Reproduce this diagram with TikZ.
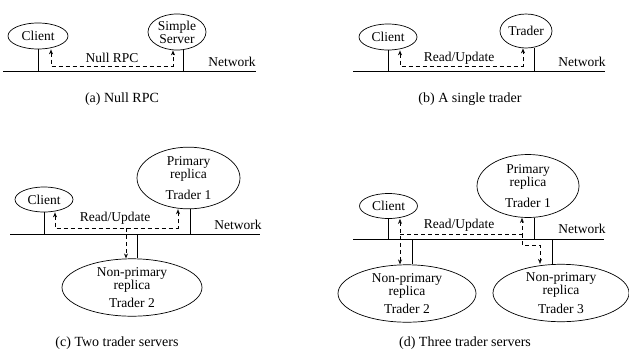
\documentclass[tikz,border=0pt]{standalone}
\usepackage{fontspec}
\setmainfont{Liberation Serif}
\usetikzlibrary{shapes.geometric,arrows.meta}

\begin{document}
\begin{tikzpicture}[x=1pt,y=-1pt,line width=0.7pt,
 host/.style={draw,ellipse,inner sep=0pt,align=center,font=\fontsize{13.5}{11.5}\selectfont},
 msg/.style={dash pattern=on 4pt off 3pt,line width=0.6pt},
 >={Stealth[open,length=5pt,width=4pt,inset=1.5pt]},
 lbl/.style={font=\fontsize{13.5}{14}\selectfont},
 figcap/.style={font=\fontsize{14}{16}\selectfont}]
\useasboundingbox (0,0) rectangle (629,354);

% (a) Null RPC
\node[host,minimum width=60pt,minimum height=26pt] (cla) at (38,36) {Client};
\node[host,minimum width=58pt,minimum height=36pt] (srva) at (177,32) {Simple\\Server};
\coordinate (neta) at (3,71); \coordinate (netb) at (256,71);
\draw (neta) -- (netb);
\draw (cla.south) -- (cla.south |- neta);
\draw ([xshift=6pt]srva.south) -- ([xshift=6pt]srva.south |- neta);
\coordinate (rpca) at (173,66);
\draw[msg,<->] ([xshift=13pt]cla.south) |- (rpca) -- ([xshift=-4pt]srva.south);
\node[lbl] (rpcla) at (112,58) {Null RPC};
\node[lbl] (nwa) at (232,62) {Network};
\node[figcap] (capa) at (122,99) {(a) Null RPC};

% (b) A single trader
\node[host,minimum width=58pt,minimum height=26pt] (clb) at (388,37) {Client};
\node[host,minimum width=52pt,minimum height=34pt] (trb) at (526,31) {Trader};
\coordinate (netc) at (353,71); \coordinate (netd) at (605,71);
\draw (netc) -- (netd);
\draw (clb.south) -- (clb.south |- netc);
\draw ([xshift=8pt]trb.south) -- ([xshift=8pt]trb.south |- netc);
\coordinate (rpcb) at (523,66);
\draw[msg,<->] ([xshift=12pt]clb.south) |- (rpcb) -- ([xshift=-3pt]trb.south);
\node[lbl] (rulb) at (459,58) {Read/Update};
\node[lbl] (nwb) at (582,62) {Network};
\node[figcap] (capb) at (470,99) {(b) A single trader};

% (c) Two trader servers
\node[host,minimum width=58pt,minimum height=25pt] (clc) at (44,199.5) {Client};
\node[host,minimum width=103pt,minimum height=61pt] (prc) at (188.5,178) {Primary\\replica\\[8pt]Trader 1};
\node[host,minimum width=140pt,minimum height=55pt] (npc) at (132,287.5) {Non-primary\\replica\\[5pt]Trader 2};
\coordinate (nete) at (10,234); \coordinate (netf) at (260,234);
\draw (nete) -- (netf);
\draw (clc.south) -- (clc.south |- nete);
\draw ([xshift=1.5pt]prc.south) -- ([xshift=1.5pt]prc.south |- nete);
\draw ([xshift=5pt]npc.north) -- ([xshift=5pt]npc.north |- nete);
\coordinate (rpcc) at (178,228); \coordinate (brc) at (126,228);
\draw[msg,<->] ([xshift=11pt]clc.south) |- (rpcc) -- ([xshift=-10.5pt]prc.south);
\draw[msg,->] (brc) -- ([xshift=-6pt]npc.north);
\node[lbl] (rulc) at (115,218) {Read/Update};
\node[lbl] (nwc) at (238,225) {Network};
\node[figcap] (capc) at (117,343) {(c) Two trader servers};

% (d) Three trader servers
\node[host,minimum width=58pt,minimum height=25pt] (cld) at (388.5,206) {Client};
\node[host,minimum width=102pt,minimum height=63pt] (prd) at (528,186) {Primary\\replica\\[8pt]Trader 1};
\node[host,minimum width=138pt,minimum height=54pt] (npd) at (407,293.5) {Non-primary\\replica\\[5pt]Trader 2};
\node[host,minimum width=136pt,minimum height=54pt] (npe) at (561,293) {Non-primary\\replica\\[5pt]Trader 3};
\coordinate (netg) at (353,239); \coordinate (neth) at (604,239);
\draw (netg) -- (neth);
\draw (cld.south) -- (cld.south |- netg);
\draw ([xshift=6pt]prd.south) -- ([xshift=6pt]prd.south |- netg);
\draw ([xshift=5pt]npd.north) -- ([xshift=5pt]npd.north |- netg);
\draw ([xshift=-9pt]npe.north) -- ([xshift=-9pt]npe.north |- netg);
\coordinate (rpdd) at (400,234); \coordinate (rpud) at (522,234);
\draw[msg,<->] ([xshift=11.5pt]cld.south) -- ([xshift=-7pt]npd.north);
\draw[msg,->] (rpdd) -- (rpud) -- ([xshift=-6pt]prd.south);
\draw[msg,->] (rpud) -- ++(0,11) -| ([xshift=-21pt]npe.north);
\node[lbl] (ruld) at (459,225) {Read/Update};
\node[lbl] (nwd) at (582,229) {Network};
\node[figcap] (capd) at (465,343) {(d) Three trader servers};
\end{tikzpicture}
\end{document}
